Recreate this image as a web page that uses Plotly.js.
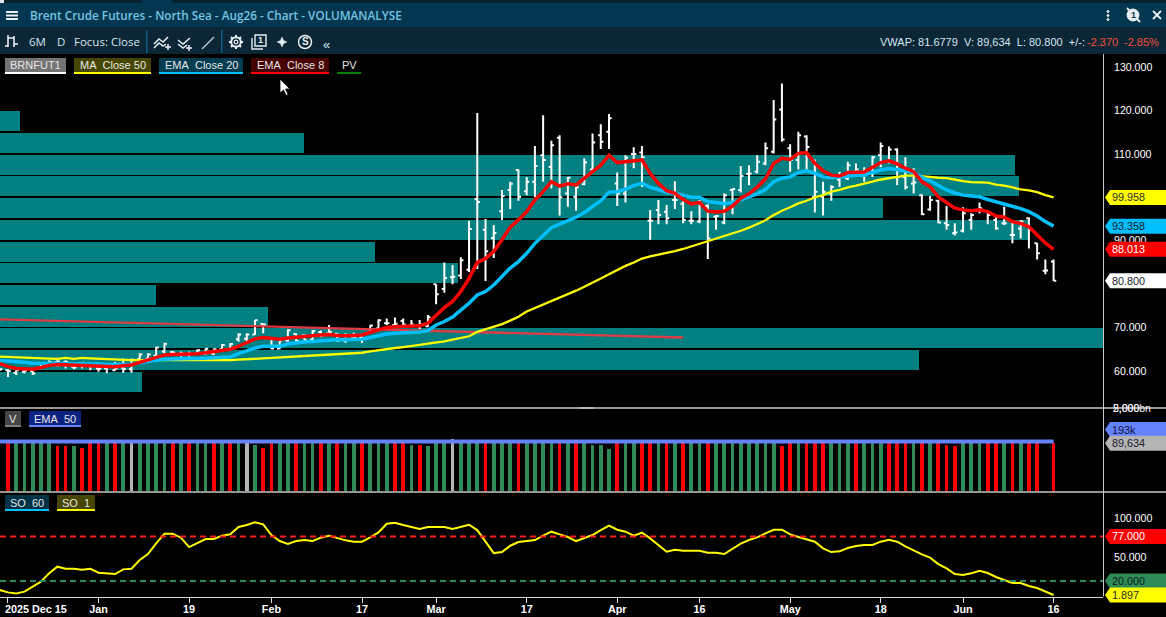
<!DOCTYPE html>
<html>
<head>
<meta charset="utf-8">
<script src="https://cdn.plot.ly/plotly-3.0.1.min.js"></script>
<style>html,body{margin:0;padding:0;background:#000;overflow:hidden}#chart{width:1166px;height:617px}</style>
</head>
<body>
<div id="chart"></div>
<script>
// ---------- series values ----------
const opens = [60.3,
 60.2,59.6,59.8,60,60.7,61.2,62,62,61,61.8,
 61.5,60.6,60.6,60.2,60.8,60.4,62.7,62.8,63.5,64.5,
 64.3,63.9,63.8,64,63.9,64,65,65,67.3,67.4,
 68.4,70.8,67.4,65.2,67,68.5,68.2,67.2,69,68.7,
 68.6,67,67.7,67.7,68.8,69.8,71,70.6,71.5,70.5,
 70.4,70.3,80,78.9,81.6,82,83.3,99.6,92.5,90.6,
 96.8,101.7,106.3,101.4,103.6,109.7,107,113.7,100.9,100.1,
 103,106.4,114.3,115.1,103.2,100.9,110,110.3,94.6,97.1,
 96.7,99.4,98.5,94.6,94.4,98,95.5,94.2,101.7,101.7,
 105.4,105.9,107.8,110.5,120.2,111.3,108.6,114,100.1,100.1,
 100.9,104.1,104.4,105.9,105.9,105.3,109.7,108.2,111,104.7,
 103.2,100.5,97.2,99.2,94,91.7,92.3,94.8,97.1,96.7,
 94.8,94,91.3,92.8,95.2,89.4,83.1,85.2];
const highs = [60.6,
 60.4,60.6,60.5,60.6,62,62.4,62.5,62.5,62.1,62.1,
 61.7,61.7,61.7,62.1,62.9,62.9,64.1,64.1,65.6,66.5,
 64.6,64.5,64.5,65,65.2,65.2,66.2,66.4,68.7,68.7,
 71.75,70.8,67.5,67.5,69.6,68.7,68.45,69.4,69.3,70.6,
 68.7,68.7,68.8,68.7,70.6,71.9,72.1,72.3,72.1,71.75,
 71.75,72.9,80,85,84.4,86.2,94.6,119.4,95,93.6,
 101.7,103.6,106.4,104.7,111.8,118.9,113,114.3,104.7,102.4,
 109,114.7,116.8,119.2,105.7,109.7,111.5,111.8,97.1,99.4,
 98.2,103.7,99.2,96.8,99.4,98.4,95.9,100.9,102,107.2,
 107.4,109.7,112.6,122.4,126.2,112.2,115.1,114.3,108.7,103.6,
 102.8,105.9,108.2,107.8,106.9,109.5,112.6,111.7,111.3,109.2,
 106.7,100.7,100.3,99.4,98,94,97.7,96.3,98.8,97.1,
 95.9,97.8,94.8,94.8,95.4,89.5,85.7,85.7];
const lows = [60,
 58.6,59.1,59.4,59.1,60.4,61,61,60.6,60.4,60.6,
 60.2,59.85,59.5,60.1,59.6,59.6,62.1,62.5,63.3,64.1,
 63.7,63.3,63.3,63.7,63.7,63.7,64.5,64.8,66.75,66.75,
 68.3,68.7,65,65,66.75,66.75,67,67.1,67.75,68.7,
 66.75,66.5,67.3,66.5,68.7,69.6,70.6,70.4,70.4,70.4,
 69.6,70.1,75.4,78,80,81.2,82.8,83.5,80.7,86,
 94.8,97.3,99.2,100.5,100,103.6,102,95.8,97.8,96.9,
 102.8,106.1,111.1,111.1,98,98.8,106.7,102.4,90.2,93.8,
 93.8,97.3,94,93.8,94,85.8,92.5,93.8,96.1,101.1,
 102.8,105.5,107.4,110.1,112.8,105.9,106.4,106.1,96.5,95.8,
 99.2,102.4,104,105.1,103.6,104.7,106.9,107.8,102.8,101.8,
 100.9,95.9,96.9,94,92.5,91.2,91.9,92.5,96.3,93.8,
 92.5,93.6,89.4,90.5,88.2,85.7,82.3,80.7];
const closes = [60.4,
 60,60.2,60.1,59.4,61.7,62,62.2,62.1,60.8,61.9,
 61.5,60.5,60.9,60.6,60.4,62.6,63.8,63.8,65.4,66.3,
 64.2,64.1,64,64.8,65.1,65,66,66.2,68.4,68.4,
 71.7,70.7,65.2,67,69.4,66.9,67.1,69.2,68.1,69,
 67,67.2,67.6,67.4,70.5,71.7,71,70.9,70.7,70.7,
 70.7,72.4,77.7,81.4,81.7,85.5,92.7,98.9,87.6,91.8,
 100.3,103.1,100.1,103.6,107.2,108.6,112,100,104.5,102.3,
 108,112.6,112.8,118.2,100.9,109.1,110,109.2,94.6,95.9,
 95.2,99.4,94.8,94.6,98.6,90.5,95.7,100.5,101.9,104.9,
 105.5,108.2,111.3,117.9,113.3,108.6,114.3,111.6,101.3,101.3,
 102.4,104.7,107.4,106.4,105.9,109.2,111.8,111,104.7,102.3,
 103.4,96.1,99.4,94.2,93.6,91.9,96.3,95.9,97.5,95.9,
 92.8,94,91.3,94.4,92.5,87.1,83.17,80.8];
const ema8 = [61.7,
 61,60.6,60.4,60.4,60.8,61.3,61.5,61.4,61.3,61.2,
 61.1,61,60.9,61,61.2,61.4,62,62.6,63.2,63.7,
 63.8,63.8,63.8,64,64.2,64.4,64.7,65,65.7,66.5,
 67.4,67.7,67.5,67.3,67.6,67.7,67.9,68.1,68.3,68.4,
 68.2,68.1,68.2,68.3,68.9,69.5,70,70.2,70.2,70.3,
 70.4,71,72.9,74.6,76,78.3,81.3,85,85.9,87.5,
 90.2,93.1,94.8,96.7,99.4,101.3,103.6,102.6,103.1,102.8,
 104.4,105.9,107.4,109.7,108,108.2,108.4,108.6,105.5,103.2,
 101.5,100.9,99.5,98.5,98.8,96.8,96.6,96.8,98,99.8,
 100.8,102.3,104.2,107.8,109,108.7,110.1,110.3,107.8,106.1,
 105.1,104.9,105.7,105.7,105.8,106.9,108,108.4,107.7,106.7,
 105.9,103.6,102.4,100.1,98.8,97.5,97.1,96.9,97.1,96.7,
 95.7,95.4,94.4,94,93.2,91.3,89.5,88.013];
const ema20 = [62.4,
 62.3,62.1,62,61.8,61.8,61.75,61.75,61.75,61.7,61.7,
 61.6,61.6,61.5,61.5,61.4,61.5,61.9,62.3,62.5,62.7,
 62.8,62.85,62.9,62.9,63,63.05,63.1,63.2,64,64.7,
 65.3,65.7,65.7,65.7,66.2,66.5,66.7,66.8,67,67.1,
 67.2,67.2,67.25,67.3,67.7,68.2,68.5,68.7,68.8,68.9,
 69,69.3,70.6,71.4,72.4,74,75.6,77.5,78.3,79.8,
 81.9,83.7,85.2,87.1,89.4,91.3,93,93.8,94.6,95.4,
 96.5,97.8,99.2,101.2,101.3,101.9,102.7,103.2,102.3,101.8,
 101.1,100.9,100.4,100,100,99,98.8,98.5,98.8,99.4,
 100,100.8,101.8,103.6,104.4,104.7,105.7,106.1,105.5,104.7,
 104.5,104.7,105,105.1,105.1,105.7,106.3,106.6,106.4,106.1,
 105.7,104.6,103.8,102.8,101.7,101,100.5,100.3,100.1,99.5,
 99,98.5,97.8,97.4,96.7,95.7,94.4,93.358];
const ma50 = [63.3,
 63.2,63.1,63,62.9,62.9,62.85,62.8,63,62.8,63,
 62.9,62.8,62.7,62.6,62.6,62.5,62.5,62.5,62.5,62.5,
 62.4,62.4,62.4,62.4,62.4,62.4,62.4,62.5,62.6,62.7,
 62.8,62.9,63,63.1,63.2,63.3,63.4,63.5,63.65,63.8,
 63.9,64,64.1,64.2,64.5,64.8,65.1,65.3,65.5,65.7,
 66,66.3,66.5,66.8,67.2,67.6,68,69,69.6,70.1,
 70.8,71.6,72.5,73.7,74.5,75.3,76,76.8,77.6,78.5,
 79.4,80.3,81.3,82.3,83.3,84.2,85,85.9,86.4,86.8,
 87.1,87.6,88.1,88.7,89.2,89.9,90.4,91,91.7,92.3,
 93,93.8,94.7,95.9,96.9,97.7,98.6,99.2,100,100.5,
 101.3,101.7,102.3,102.7,103.1,103.6,104.1,104.4,104.7,105,
 105,104.9,104.7,104.5,104.4,104.1,103.7,103.5,103.4,103.4,
 102.9,102.7,102.3,101.8,101.6,101.2,100.5,99.958];
const trendDays = [0, 83];
const trendPrices = [71.9, 67.7];
const profilePrices = [117.5,112.5,107.5,102.5,97.5,92.5,87.5,82.5,77.5,72.5,67.5,62.5,57.5];
const profileVolume = [1.8,27.6,92,92.4,80.1,93.2,34,41.5,14.2,24.3,100,83.3,12.9];
const volumeDir = [null,
 'R','G','G','G','G','G','R','R','G','R',
 'R','R','G','R','G','N','G','G','G','G',
 'R','G','R','G','G','R','G','R','G','N',
 'G','R','R','G','G','R','G','G','R','G',
 'R','G','G','R','G','G','G','R','R','G',
 'R','G','G','G','N','G','G','G','R','G',
 'G','G','R','G','G','G','G','R','G','R',
 'G','G','G','G','R','G','G','R','R','G',
 'R','G','R','G','G','R','G','G','G','G',
 'G','G','G','G','R','R','G','R','R','R',
 'G','G','G','R','G','G','G','R','R','R',
 'G','R','G','R','R','R','G','G','G','R',
 'R','G','R','G','R','R',null,'R'];
const volumes = [null,
 150000,135000,120000,140000,160000,130000,27000,17000,27000,10000,
 145000,160000,125000,150000,130000,120000,140000,165000,155000,130000,
 170000,150000,140000,125000,135000,160000,120000,150000,170000,95000,
 45000,10000,140000,130000,120000,155000,125000,135000,150000,130000,
 140000,150000,135000,160000,125000,145000,170000,155000,130000,45000,
 45000,17000,130000,150000,850000,210000,230000,260000,240000,220000,
 190000,200000,250000,210000,190000,200000,220000,250000,190000,240000,
 210000,45000,45000,6000,200000,210000,190000,240000,220000,200000,
 230000,190000,210000,180000,195000,220000,180000,200000,190000,175000,
 185000,180000,170000,165000,17000,160000,175000,180000,170000,185000,
 165000,160000,170000,180000,165000,155000,170000,190000,200000,210000,
 175000,195000,165000,185000,45000,17000,160000,170000,165000,190000,
 200000,175000,190000,165000,210000,195000,null,89634];
const volumeEma = [190000,
 190000,190000,190000,190000,190000,195000,220000,250000,270000,280000,
 285000,285000,280000,270000,250000,200000,190000,190000,190000,190000,
 190000,190000,190000,190000,190000,190000,190000,190000,190000,190000,
 190000,190000,190000,190000,190000,190000,190000,190000,190000,190000,
 190000,190000,190000,190000,190000,190000,190000,190000,190000,190000,
 190000,190000,195000,210000,240000,270000,280000,285000,285000,280000,
 280000,275000,275000,270000,270000,270000,265000,265000,265000,265000,
 260000,250000,230000,210000,230000,260000,265000,265000,265000,265000,
 265000,265000,260000,260000,260000,260000,260000,260000,260000,250000,
 250000,250000,230000,200000,195000,195000,195000,195000,195000,195000,
 195000,195000,195000,195000,195000,195000,195000,195000,195000,195000,
 195000,195000,195000,195000,195000,195000,195000,195000,195000,195000,
 195000,195000,195000,195000,195000,195000,193000,193000];
const so1 = [8.3,
 5.3,4,6.2,12.6,19,29.7,38.2,35.6,35.6,34.4,
 35.6,30.5,30.1,28.8,34.8,35.6,46.8,54.5,68.1,80.5,
 80.5,75.4,63.4,68.1,73.7,73.7,78,79.7,89.1,91.6,
 95,92.5,78.8,71.1,67.3,71.1,72.4,71.1,75.4,78,
 74.5,72,70.3,70.3,75.8,82.2,93.3,94.6,91.6,89.1,
 86.5,89.1,89.1,89.1,86.5,89.5,92,85.2,70.3,55.7,
 57,65.1,69.8,71.1,72.4,78,83.1,79.7,76.3,71.1,
 74.5,78.8,85.2,90.8,85.6,83.1,78,81.8,74.5,66,
 57.4,60,58.7,58.7,58.7,56.2,56.2,54.5,60.9,67.7,
 72.4,75.8,81,85.6,85.6,79.7,76.3,73.7,70.3,61.7,
 57,57.9,62.2,64.7,66,66,70.3,72.8,70.3,64.3,
 58.7,54,49.8,41.6,36.1,28.8,27.5,29.7,33.1,30.1,
 25,20.7,17.3,17.3,13.4,10.9,6.2,1.897];
const soUpper = 77, soLower = 20;
const dayTicks = [1,12,23,33,44,53,64,75,85,96,107,117,128];
const dayLabels = ['','Jan','19','Feb','17','Mar','17','Apr','16','May','18','Jun','16'];
const priceTicks = [60,70,80,90,100,110,120,130];
const priceTickLabels = ['60.000','70.000','80.000','90.000','100.000','110.000','120.000','130.000'];
const soTicks = [50,100];
const soTickLabels = ['50.000','100.000'];

// ---------- helpers: screen pixels to paper fractions ----------
const W = 1166, H = 617;
const FONT = 'Liberation Sans, Arial, sans-serif';
const UI = 'Open Sans, Noto Sans, sans-serif';
const X = v => v / W, Y = v => 1 - v / H;
const days = closes.map((_, i) => i);
const dirColor = {R:'#ff0000', G:'#2e8b57', N:'#b4b4b4'};
const P = s => s.replace(/(-?[\d.]+)[ ,](-?[\d.]+)/g, (m, a, b) => X(+a) + ' ' + Y(+b));
const shapes = [], notes = [];
const rect = (x0, y0, x1, y1, fill) => shapes.push({type:'rect', layer:'above', xref:'paper', yref:'paper',
  x0:X(x0), x1:X(x1), y0:Y(y0), y1:Y(y1), fillcolor:fill, line:{width:0}});
const seg = (path, color, width, fill) => shapes.push({type:'path', layer:'above', xref:'paper', yref:'paper',
  path:P(path), fillcolor:fill || 'rgba(0,0,0,0)', line:{color:color, width:width}});
const ring = (cx, cy, r, color, width, fill) => shapes.push({type:'circle', layer:'above', xref:'paper', yref:'paper',
  x0:X(cx-r), x1:X(cx+r), y0:Y(cy+r), y1:Y(cy-r), fillcolor:fill || 'rgba(0,0,0,0)', line:{color:color, width:width}});
const txt = (x, y, text, o = {}) => notes.push({xref:'paper', yref:'paper', x:X(x), y:Y(y), text:text, showarrow:false,
  xanchor:o.anchor || 'left', yanchor:'middle', borderpad:0,
  font:{family:o.family || FONT, size:o.size || 11, color:o.color || '#e8e8e8', weight:o.weight || 400}});
// legend chip with coloured underline
const chip = (x0, x1, y0, label, bg, under) => {
  rect(x0, y0, x1, y0 + 14, bg);
  rect(x0, y0 + 14, x1, y0 + 16, under);
  txt((x0 + x1) / 2, y0 + 7.5, label, {anchor:'center', size:11, color:'#e6e6e6'});
};
// value tag on the right-hand scale. Pane-clipped axes would cut a tag that
// straddles a pane edge, so the SO tags anchor on paper through the pane's own scale.
const soRange = [0, 132.7], soPane = [596.5, 493];
const soPaper = v => Y(soPane[0] + (soPane[1] - soPane[0]) * (v - soRange[0]) / (soRange[1] - soRange[0]));
const tag = (yref, value, bg, fg, label, shift = 0) => {
  const s = shift;
  const shapeRef = yref === 'y3' ? 'paper' : yref;
  const anchor = yref === 'y3' ? soPaper(value) : value;
  shapes.push({type:'path', layer:'above', xref:'paper', yref:shapeRef, xsizemode:'pixel', ysizemode:'pixel',
    xanchor:1, yanchor:anchor,
    path:`M -61 ${s} L -56 ${s+7.5} L 0 ${s+7.5} L 0 ${s-7.5} L -56 ${s-7.5} Z`,
    fillcolor:bg, line:{width:0}});
  notes.push({xref:'paper', yref:yref, x:X(1111), y:yref === 'y2' ? Math.log10(value) : value, yshift:s,
    text:label, showarrow:false, xanchor:'left', yanchor:'middle', borderpad:0,
    font:{family:FONT, size:10.8, color:fg}});
};

// ---------- window chrome ----------
rect(0, 0, W, 3, '#06222f');
rect(142, 0, 172, 3, '#03374f');
rect(0, 0, 4, 3, '#dfe8ee');
rect(0, 3, W, 27, '#03374f');
rect(0, 27, W, 54, '#0b2736');
rect(6, 11, 18, 13, '#e8eef2'); rect(6, 14.5, 18, 16.5, '#e8eef2'); rect(6, 18, 18, 20, '#e8eef2');
txt(29, 15, 'Brent Crude Futures - North Sea - Aug26 - Chart - VOLUMANALYSE', {family:UI, size:11.75, color:'#74c4e4', weight:600});
// toolbar icons
seg('M8 35 L8 47 M5 46 L8 46 M8 38 L14 38 M14 36 L14 47 M14 44 L18 44', '#e8eef2', 1.6);
txt(28, 42, '6M', {family:UI, size:11.5, color:'#d2e6f2'});
txt(56, 42, 'D', {family:UI, size:11.5, color:'#d2e6f2'});
txt(73, 42, 'Focus: Close', {family:UI, size:11.5, color:'#d2e6f2'});
rect(146, 30, 147.5, 53, '#0f5f88');
rect(221, 30, 222.5, 53, '#0f5f88');
seg('M154 44 L159 39 L163 42 L168 37 M154 48 L159 43 L163 46 L166 44 M165 47 L171 47 M168 44 L168 50', '#e8eef2', 1.5);
seg('M178 40 L183 44 L190 38 M178 44 L183 48 L187 45 M186 48 L192 48 M189 45 L189 51', '#e8eef2', 1.5);
seg('M202 49 L214 37', '#b8c4cc', 1.5);
ring(236, 42, 4.8, '#e8eef2', 2);
ring(236, 42, 1.8, '#e8eef2', 1.2);
seg('M236 35 L236 37 M236 47 L236 49 M229 42 L231 42 M241 42 L243 42 M231 37 L232.5 38.5 M239.5 45.5 L241 47 M231 47 L232.5 45.5 M239.5 38.5 L241 37', '#e8eef2', 2);
seg('M255 35 L266 35 L266 46 L255 46 Z M252 38 L252 49 L263 49', '#e8eef2', 1.4);
txt(260.5, 40.5, '1', {anchor:'center', size:9, color:'#e8eef2', weight:700});
seg('M282 37 L283.5 40.5 L287 42 L283.5 43.5 L282 47 L280.5 43.5 L277 42 L280.5 40.5 Z', '#e8eef2', 0.5, '#e8eef2');
ring(305, 42, 6.5, '#e8eef2', 1.5);
txt(305, 42, 'S', {anchor:'center', size:10, color:'#e8eef2', weight:700});
txt(322, 44, '«', {size:13, color:'#d2e6f2'});
// right-hand readouts
txt(879, 42, 'VWAP: 81.6779&nbsp;&nbsp;V: 89,634&nbsp;&nbsp;L: 80.800&nbsp;&nbsp;+/-:', {size:11, color:'#d2e6f2'});
txt(1086, 42, '-2.370', {size:11, color:'#f0503c'});
txt(1123, 42, '-2.85%', {size:11, color:'#f0503c'});
ring(1108, 11.5, 1, '#e8eef2', 1, '#e8eef2'); ring(1108, 15.5, 1, '#e8eef2', 1, '#e8eef2'); ring(1108, 19.5, 1, '#e8eef2', 1, '#e8eef2');
ring(1133, 15, 6, '#e8eef2', 1, '#e8eef2');
seg('M1127 8 L1140 22', '#e8eef2', 2);
txt(1133, 15, '1', {anchor:'center', size:9, color:'#03374f', weight:700});
seg('M1153 11 L1161 19 M1161 11 L1153 19', '#e8eef2', 1.8);

// ---------- pane chips ----------
chip(5, 66, 58, 'BRNFUT1', '#737373', '#ffffff');
chip(74, 151, 58, 'MA&nbsp;&nbsp;Close 50', '#464600', '#ffff00');
chip(159, 243, 58, 'EMA&nbsp;&nbsp;Close 20', '#003c52', '#00bfff');
chip(251, 329, 58, 'EMA&nbsp;&nbsp;Close 8', '#460000', '#ff0000');
chip(337, 361, 58, 'PV', '#000000', '#008000');
chip(5, 21, 411, 'V', '#464646', '#808080');
chip(29, 81, 411, 'EMA&nbsp;&nbsp;50', '#0a2382', '#6482fa');
chip(5, 49, 495, 'SO&nbsp;&nbsp;60', '#003246', '#00bfff');
chip(57, 95, 495, 'SO&nbsp;&nbsp;1', '#464600', '#ffff00');

// ---------- frame lines ----------
rect(0, 407, W, 409, '#969696');
rect(0, 491, W, 493, '#969696');
rect(1103, 54, 1104, 596.5, '#c8c8c8');
seg('M580 408 L594 408', '#dddddd', 1);
seg('M280 79 L280 93 L283.5 90 L286 95.5 L288.2 94.5 L285.6 89 L290 89 Z', '#000000', 0.8, '#ffffff');
txt(1112, 408, '2,000bn', {size:10.5, color:'#f0f0f0'});
txt(1112, 408, '5,000', {size:10.5, color:'#f0f0f0'});

// ---------- SO guide lines ----------
[[soUpper, '#ff1e1e'], [soLower, '#2e8b57']].forEach(([v, c]) => shapes.push({
  type:'line', layer:'above', xref:'paper', yref:'y3', x0:0, x1:X(1103), y0:v, y1:v,
  line:{color:c, width:2, dash:'6px,4px'}}));

// ---------- value tags ----------
tag('y', ma50[ma50.length-1], '#ffff00', '#2a2a2a', '99.958');
tag('y', ema20[ema20.length-1], '#00bfff', '#10202a', '93.358');
tag('y', ema8[ema8.length-1], '#ff0000', '#ffffff', '88.013');
tag('y', closes[closes.length-1], '#ffffff', '#1a1a2a', '80.800');
tag('y2', 193000, '#6482fa', '#101040', '193k', 12);
tag('y2', volumes[volumes.length-1], '#b4b4b4', '#202030', '89,634');
tag('y3', soUpper, '#ff0000', '#ffffff', '77.000');
tag('y3', soLower, '#2e8b57', '#10201a', '20.000');
tag('y3', so1[so1.length-1], '#ffff00', '#2a2a2a', '1.897');
txt(4, 608.5, '2025 Dec 15', {size:10.8, color:'#ffffff', weight:700});

// ---------- traces ----------
const traces = [
  {type:'bar', orientation:'h', x:profileVolume.map(v => v * 1.34), y:profilePrices, width:4.6,
   marker:{color:'#008080', line:{width:0}}, xaxis:'x', yaxis:'y', hoverinfo:'skip', name:'PV'},
  {type:'ohlc', x:days, open:opens, high:highs, low:lows, close:closes, tickwidth:0.32,
   increasing:{line:{color:'#ffffff', width:2}}, decreasing:{line:{color:'#ffffff', width:2}},
   xaxis:'x', yaxis:'y', name:'BRNFUT1', hoverinfo:'skip'},
  {type:'scatter', mode:'lines', x:trendDays, y:trendPrices, line:{color:'rgba(232,56,66,0.95)', width:2.4},
   xaxis:'x', yaxis:'y', hoverinfo:'skip', name:'Trend'},
  {type:'scatter', mode:'lines', x:days, y:ma50, line:{color:'#ffff00', width:2.3}, xaxis:'x', yaxis:'y', name:'MA Close 50', hoverinfo:'skip'},
  {type:'scatter', mode:'lines', x:days, y:ema20, line:{color:'#00bfff', width:3.5}, xaxis:'x', yaxis:'y', name:'EMA Close 20', hoverinfo:'skip'},
  {type:'scatter', mode:'lines', x:days, y:ema8, line:{color:'#ff0000', width:3.5}, xaxis:'x', yaxis:'y', name:'EMA Close 8', hoverinfo:'skip'},
  {type:'bar', x:days, y:volumes, width:0.45, marker:{color:volumeDir.map(d => d ? dirColor[d] : '#000'), line:{width:0}},
   xaxis:'x', yaxis:'y2', name:'V', hoverinfo:'skip'},
  {type:'scatter', mode:'lines', x:days, y:volumeEma, line:{color:'#6482fa', width:4}, xaxis:'x', yaxis:'y2', name:'EMA 50', hoverinfo:'skip', connectgaps:true},
  {type:'scatter', mode:'lines', x:days, y:so1, line:{color:'#ffff00', width:2}, xaxis:'x', yaxis:'y3', name:'SO 1', hoverinfo:'skip'}
];

const layout = {
  width:W, height:H, margin:{l:0, r:0, t:0, b:0, pad:0},
  paper_bgcolor:'#000', plot_bgcolor:'#000', showlegend:false, barmode:'overlay', bargap:0,
  font:{family:FONT, color:'#ffffff'},
  xaxis:{domain:[0, 1103/W], range:[0.03, 134], anchor:'y3', tickmode:'array', tickvals:dayTicks, ticktext:dayLabels,
    ticks:'outside', ticklen:5, tickcolor:'#e0e0e0', tickwidth:1, showgrid:false, zeroline:false,
    showline:true, linecolor:'#d8d8d8', linewidth:1, rangeslider:{visible:false}, ticklabelstandoff:-2,
    tickfont:{family:FONT, size:10.8, color:'#ffffff', weight:700}, tickangle:0, automargin:false},
  yaxis:{domain:[Y(407), Y(54)], range:[51.71, 133], anchor:'x', side:'right', showgrid:false, zeroline:false, showline:false,
    tickmode:'array', tickvals:priceTicks, ticktext:priceTickLabels, ticks:'', ticklabelstandoff:10,
    tickfont:{family:FONT, size:10.6, color:'#ffffff'}, automargin:false},
  yaxis2:{domain:[Y(491), Y(409)], type:'log', range:[-5.35, 12.3], anchor:'x', side:'right', showgrid:false, zeroline:false,
    showline:false, showticklabels:false, ticks:'', automargin:false},
  yaxis3:{domain:[Y(soPane[0]), Y(soPane[1])], range:soRange, anchor:'x', side:'right', showgrid:false, zeroline:false, showline:false,
    tickmode:'array', tickvals:soTicks, ticktext:soTickLabels, ticks:'', ticklabelstandoff:10,
    tickfont:{family:FONT, size:10.6, color:'#ffffff'}, automargin:false},
  shapes:shapes, annotations:notes
};
Plotly.newPlot('chart', traces, layout, {staticPlot:true, displayModeBar:false});
</script>
</body>
</html>
